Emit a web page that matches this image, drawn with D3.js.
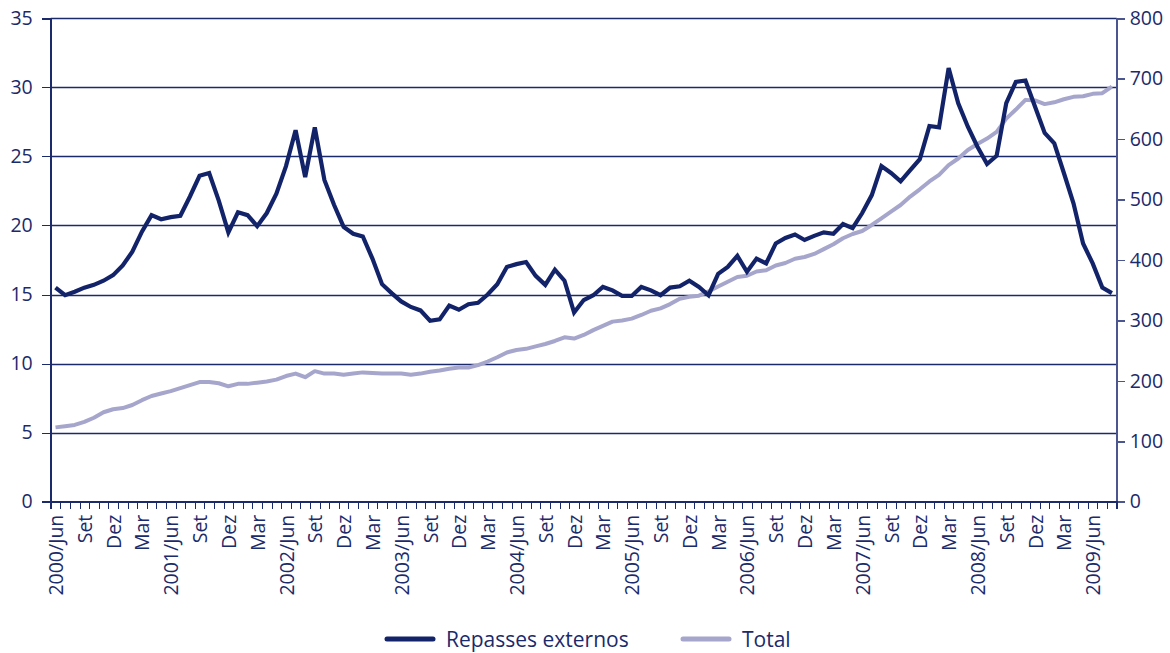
<!DOCTYPE html>
<html lang="pt">
<head>
<meta charset="utf-8">
<script src="https://d3js.org/d3.v7.min.js"></script>
<style type="text/css">
body {
	margin: 0;
	background-color: #ffffff;
}
.axis text {
	font-family: "Open Sans", sans-serif;
	font-size: 19.5px;
	fill: #1b2a6b;
}
.axis line, .axis path {
	stroke: #1b2a6b;
	shape-rendering: crispEdges;
}
.legend text {
	font-family: "Open Sans", sans-serif;
	font-size: 21px;
	fill: #1b2a6b;
}
</style>
</head>
<body>
<script type="text/javascript">

// Repasses externos (left axis), monthly from 2000/Jun to 2009/Ago
var repasses = [
  15.5, 14.95, 15.2, 15.5, 15.7, 16.0, 16.4, 17.1, 18.1, 19.55, 20.75, 20.45,
  20.6, 20.7, 22.1, 23.6, 23.8, 21.8, 19.5, 20.95, 20.75, 19.95, 20.9, 22.3,
  24.3, 26.9, 23.5, 27.1, 23.3, 21.5, 19.9, 19.4, 19.2, 17.6, 15.75, 15.1,
  14.5, 14.1, 13.85, 13.1, 13.2, 14.2, 13.9, 14.3, 14.4, 15.0, 15.75, 17.0,
  17.2, 17.35, 16.35, 15.7, 16.8, 16.0, 13.7, 14.6, 14.95, 15.55, 15.3, 14.9,
  14.9, 15.55, 15.3, 14.95, 15.5, 15.6, 16.0, 15.55, 14.95, 16.5, 17.0, 17.8,
  16.65, 17.6, 17.25, 18.7, 19.1, 19.35, 18.95, 19.25, 19.5, 19.4, 20.1, 19.8,
  20.9, 22.2, 24.3, 23.8, 23.2, 24.0, 24.8, 27.2, 27.1, 31.4, 28.85, 27.15,
  25.7, 24.45, 25.05, 28.85, 30.4, 30.5, 28.6, 26.7, 25.95, 23.8, 21.6, 18.7,
  17.25, 15.5, 15.1
];

// Total (right axis)
var total = [
  123, 125, 127, 132, 139, 148, 153, 155, 160, 168, 175, 179,
  183, 188, 193, 198, 198, 196, 191, 195, 195, 197, 199, 202,
  208, 212, 206, 216, 212, 212, 210, 212, 214, 213, 212, 212,
  212, 210, 212, 215, 217, 220, 222, 222, 226, 232, 239, 247,
  251, 253, 257, 261, 266, 272, 270, 276, 284, 291, 298, 300,
  303, 309, 316, 320, 327, 336, 339, 341, 348, 356, 364, 372,
  374, 381, 383, 391, 395, 402, 405, 410, 418, 426, 436, 443,
  448, 458, 469, 480, 491, 505, 517, 530, 541, 557, 568, 582,
  592, 601, 612, 634, 649, 665, 664, 658, 661, 666, 670, 671,
  675, 676, 687
];

// x tick labels, every 3 months
var tickLabels = [
  "2000/Jun", "Set", "Dez", "Mar",
  "2001/Jun", "Set", "Dez", "Mar",
  "2002/Jun", "Set", "Dez", "Mar",
  "2003/Jun", "Set", "Dez", "Mar",
  "2004/Jun", "Set", "Dez", "Mar",
  "2005/Jun", "Set", "Dez", "Mar",
  "2006/Jun", "Set", "Dez", "Mar",
  "2007/Jun", "Set", "Dez", "Mar",
  "2008/Jun", "Set", "Dez", "Mar",
  "2009/Jun"
];

var leftTicks = [0, 5, 10, 15, 20, 25, 30, 35];
var rightTicks = [0, 100, 200, 300, 400, 500, 600, 700, 800];
var seriesNames = ["Repasses externos", "Total"];

var darkColor = "#13236a";
var lightColor = "#a6a6cc";

var width = 1170, height = 653;
var x0 = 50.7, x1 = 1116.7, yTop = 18.3, yBot = 501.7;

var svg = d3.select("body")
  .append("svg")
  .attr("width", width)
  .attr("height", height);

var n = repasses.length;

// month position (band boundaries at integers, points at centres)
var x = d3.scaleLinear().domain([0, n]).range([x0, x1]);
var yL = d3.scaleLinear().domain([0, 35]).range([yBot, yTop]);
var yR = d3.scaleLinear().domain([0, 800]).range([yBot, yTop]);

// gridlines
svg.append("g")
  .selectAll("line")
  .data(leftTicks.slice(1))
  .enter()
  .append("line")
  .attr("x1", x0)
  .attr("x2", x1)
  .attr("y1", function(d) { return Math.round(yL(d)) + 0.5; })
  .attr("y2", function(d) { return Math.round(yL(d)) + 0.5; })
  .style("stroke", "#1b2a6b")
  .style("stroke-width", 1.3);

// left axis
svg.append("g")
  .attr("class", "axis")
  .attr("transform", "translate(" + x0 + ",0)")
  .call(d3.axisLeft(yL).tickValues(leftTicks).tickSize(9).tickPadding(9))
  .call(function(g) { g.selectAll("path").style("stroke-width", 1.5); });

// right axis
svg.append("g")
  .attr("class", "axis")
  .attr("transform", "translate(" + x1 + ",0)")
  .call(d3.axisRight(yR).tickValues(rightTicks).tickSize(8).tickPadding(5))
  .call(function(g) { g.selectAll("path, line").style("stroke", "#4b5690").style("stroke-width", 1.5); });

// bottom axis: month tick marks
svg.append("g")
  .attr("class", "axis")
  .attr("transform", "translate(0," + yBot + ")")
  .call(d3.axisBottom(x).tickValues(d3.range(n + 1)).tickSize(7).tickFormat(""))
  .call(function(g) { g.select("path").style("stroke-width", 1.5); });

// bottom axis: labels every 3 months
svg.append("g")
  .attr("class", "axis")
  .attr("transform", "translate(0," + yBot + ")")
  .call(d3.axisBottom(x)
    .tickValues(tickLabels.map(function(d, i) { return i * 3 + 0.5; }))
    .tickSize(0)
    .tickFormat(function(d, i) { return tickLabels[i]; }))
  .call(function(g) {
    g.select("path").remove();
    g.selectAll("text")
      .attr("transform", "rotate(-90)")
      .attr("x", -13)
      .attr("y", 0)
      .attr("dy", "0.36em")
      .style("text-anchor", "end");
  });

// lines
var lineL = d3.line()
  .x(function(d, i) { return x(i + 0.5); })
  .y(function(d) { return yL(d); });

var lineR = d3.line()
  .x(function(d, i) { return x(i + 0.5); })
  .y(function(d) { return yR(d); });

svg.append("path")
  .datum(total)
  .attr("d", lineR)
  .style("fill", "none")
  .style("stroke", lightColor)
  .style("stroke-width", 4)
  .style("stroke-linejoin", "round");

svg.append("path")
  .datum(repasses)
  .attr("d", lineL)
  .style("fill", "none")
  .style("stroke", darkColor)
  .style("stroke-width", 4.2)
  .style("stroke-linejoin", "miter");

// legend
var legendX = [387, 683];
var legend = svg.append("g").attr("class", "legend");
var items = legend.selectAll("g")
  .data(seriesNames)
  .enter()
  .append("g")
  .attr("transform", function(d, i) { return "translate(" + legendX[i] + ",639)"; });

items.append("line")
  .attr("x1", 0)
  .attr("x2", 46)
  .style("stroke", function(d, i) { return i == 0 ? darkColor : lightColor; })
  .style("stroke-width", 5)
  .style("stroke-linecap", "round");

items.append("text")
  .attr("x", 59)
  .attr("y", 7.5)
  .text(function(d) { return d; });

</script>
</body>
</html>
